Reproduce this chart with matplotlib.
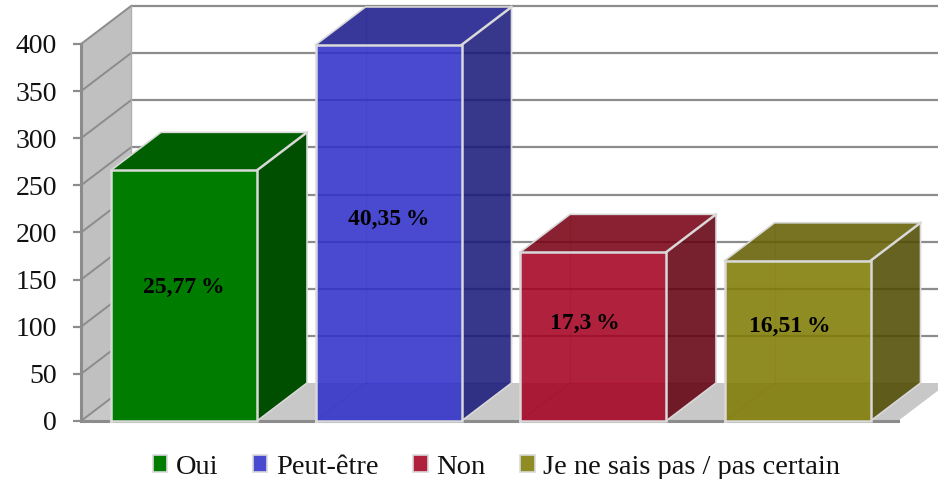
import matplotlib
matplotlib.use("Agg")
import matplotlib.pyplot as plt
from matplotlib.colors import to_rgba
from matplotlib.patches import Patch

categories = ["Oui", "Peut-être", "Non", "Je ne sais pas / pas certain"]
values = [266, 399, 179, 170]
percent_labels = ["25,77\u202f%", "40,35\u202f%", "17,3\u202f%", "16,51\u202f%"]
yticks = [0, 50, 100, 150, 200, 250, 300, 350, 400]

front_colors = ["#007d00", "#2f2fcb", "#a50021", "#7f7b02"]
top_colors = ["#005f00", "#1a1a8b", "#770013", "#635e02"]
side_colors = ["#004f00", "#19197a", "#64000f", "#4f4b00"]
alphas = [1.0, 0.87, 0.87, 0.87]
label_y = [142, 214, 103, 100]
label_dx = [0.0, 0.0, -0.04, -0.04]

W, H = 938, 479
plt.rcParams["font.family"] = ["Liberation Serif", "DejaVu Serif"]
fig = plt.figure(figsize=(W / 100, H / 100), dpi=100)
ax = fig.add_axes([81 / W, (H - 421) / H, (898 - 81) / W, 377 / H])
ax.set_xlim(-0.5037, 3.4914)
ax.set_ylim(0, 400)

x0, x1 = ax.get_xlim()
ddx, ddy = 0.2445, 40.3     # oblique depth of the 3-D box
half = 0.357
GRID = "#8c8c8c"
EDGE = "#d9d9d9"

# walls and floor
ax.fill([x0, x0 + ddx, x0 + ddx, x0], [0, ddy, 400 + ddy, 400],
        color="#c0c0c0", lw=0, clip_on=False, zorder=1)
ax.fill([x0, x1, x1 + ddx, x0 + ddx], [0, 0, ddy, ddy],
        color="#c8c8c8", lw=0, clip_on=False, zorder=1)

# gridlines
for t in yticks:
    if t > 0:
        ax.plot([x0 + ddx, x1 + ddx], [t + ddy, t + ddy], color=GRID, lw=1.6,
                clip_on=False, zorder=2, solid_capstyle="butt")
    ax.plot([x0, x0 + ddx], [t, t + ddy], color=GRID, lw=1.4,
            clip_on=False, zorder=2)
ax.plot([x0 + ddx, x0 + ddx], [ddy, 400 + ddy], color="#b0b0b0", lw=1.0,
        clip_on=False, zorder=2)

# bars
for i, v in enumerate(values):
    l, r = i - half, i + half
    a = alphas[i]
    z = 3 + i
    kw = dict(lw=0, clip_on=False, zorder=z, alpha=a)
    if a < 1:
        # hidden back edges show through the translucent bars
        ax.plot([l, l + ddx, r + ddx], [0, ddy, ddy], color=top_colors[i], lw=1.0,
                alpha=0.2, clip_on=False, zorder=z - 0.1)
        ax.plot([l + ddx, l + ddx], [ddy, v + ddy], color=top_colors[i], lw=1.0,
                alpha=0.2, clip_on=False, zorder=z - 0.1)
    ax.fill([l, r, r + ddx, l + ddx], [v, v, v + ddy, v + ddy],
            color=top_colors[i], **kw)
    ax.fill([r, r + ddx, r + ddx, r], [0, ddy, v + ddy, v],
            color=side_colors[i], **kw)
    ax.fill([l, r, r, l], [0, 0, v, v], color=front_colors[i], **kw)
    ax.plot([l, r, r, l, l], [0, 0, v, v, 0], color=EDGE, lw=1.8,
            clip_on=False, zorder=z + 0.1, solid_joinstyle="miter")
    ax.plot([l, l + ddx, r + ddx, r + ddx, r], [v, v + ddy, v + ddy, ddy, 0],
            color=EDGE, lw=1.2, clip_on=False, zorder=z + 0.1)
    ax.plot([r, r + ddx], [v, v + ddy], color=EDGE, lw=1.8,
            clip_on=False, zorder=z + 0.1)
    ax.text(i + label_dx[i], label_y[i], percent_labels[i], ha="center", va="center",
            fontsize=17, fontweight="bold", color="black", zorder=20)

# axes
for s in ["top", "right"]:
    ax.spines[s].set_visible(False)
for s in ["left", "bottom"]:
    ax.spines[s].set_color(GRID)
    ax.spines[s].set_linewidth(2.2)
    ax.spines[s].set_zorder(2.5)
ax.patch.set_visible(False)
ax.set_xticks([])
ax.set_yticks(yticks)
ax.tick_params(axis="y", length=5.8, width=1.6, color=GRID, pad=11.5,
               labelsize=20, labelcolor="#111111")

handles = [Patch(facecolor=to_rgba(c, a), edgecolor="#d9d9d9", lw=1.2)
           for c, a in zip(front_colors, alphas)]
leg = fig.legend(handles, categories, loc="center", bbox_to_anchor=(496.5 / W, 1 - 467 / H),
                 ncol=4, frameon=False, handlelength=0.5, handleheight=0.5,
                 handletextpad=0.3, columnspacing=1.23, borderpad=0,
                 prop={"family": "Liberation Serif", "size": 20.5})
for t in leg.get_texts():
    t.set_color("#111111")

fig.savefig("out.png", dpi=100, facecolor="white")
